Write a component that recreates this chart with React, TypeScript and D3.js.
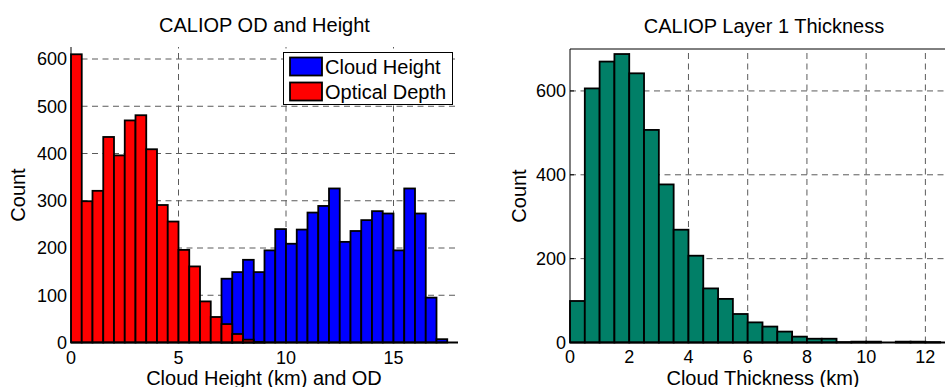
import React from "react";
import * as d3 from "d3";

// ---- Data ----
const binWidth = 0.5;
const odStart = 0;
const odCounts = [610, 299, 321, 435, 396, 470, 481, 409, 291, 256, 196, 161, 87, 54, 39, 18, 6, 1];
const heightStart = 7;
const heightCounts = [135, 149, 175, 149, 195, 240, 209, 239, 275, 289, 326, 213, 236, 259, 278, 273, 195, 326, 273, 95, 7];
const thickStart = 0;
const thickCounts = [99, 606, 670, 688, 642, 507, 377, 269, 207, 129, 104, 68, 48, 38, 26, 14, 9, 9, 1, 2, 2, 0, 2, 2, 1, 0];

const leftXTicks = [0, 5, 10, 15];
const leftYTicks = [0, 100, 200, 300, 400, 500, 600];
const rightXTicks = [0, 2, 4, 6, 8, 10, 12];
const rightYTicks = [0, 200, 400, 600];

const legendItems = [
  { label: "Cloud Height", color: "#0000FF" },
  { label: "Optical Depth", color: "#FF0000" },
];

const FONT = "'Liberation Sans', Arial, Helvetica, sans-serif";
const GRID = "#5a5a5a";

function bins(start: number, counts: number[]) {
  return counts.map((c, i) => ({ x0: start + i * binWidth, x1: start + (i + 1) * binWidth, c }));
}

export default function App() {
  // Left panel scales
  const lx = d3.scaleLinear().domain([0, 18]).range([71, 458]);
  const ly = d3.scaleLinear().domain([0, 600]).range([342.5, 59]);
  const lTop = 47;
  // Right panel scales
  const rx = d3.scaleLinear().domain([0, 13]).range([570, 955]);
  const ry = d3.scaleLinear().domain([0, 700]).range([342.5, 49]);

  const odBins = bins(odStart, odCounts);
  const hBins = bins(heightStart, heightCounts);
  const tBins = bins(thickStart, thickCounts);

  const barStroke = { stroke: "#000", strokeWidth: 1.8 } as const;

  return (
    <svg
      width={945}
      height={387}
      style={{ position: "absolute", left: 0, top: 0, background: "#fff" }}
      fontFamily={FONT}
    >
      <rect width={945} height={387} fill="#fff" />
      {/* ---------- LEFT PANEL ---------- */}
      <g>
        {leftYTicks.filter((t) => t > 0).map((t) => (
          <line key={"lyg" + t} x1={lx(0)} x2={lx(18)} y1={ly(t)} y2={ly(t)} stroke={GRID} strokeDasharray="6,4.5" strokeWidth={1} />
        ))}
        {leftXTicks.filter((t) => t > 0).map((t) => (
          <line key={"lxg" + t} x1={lx(t)} x2={lx(t)} y1={ly(0)} y2={lTop} stroke={GRID} strokeDasharray="6,4.5" strokeWidth={1} />
        ))}
        {hBins.map((b, i) => (
          <rect key={"h" + i} x={lx(b.x0)} y={ly(b.c)} width={lx(b.x1) - lx(b.x0)} height={ly(0) - ly(b.c)} fill="#0000FF" {...barStroke} />
        ))}
        {odBins.map((b, i) => (
          <rect key={"o" + i} x={lx(b.x0)} y={ly(b.c)} width={lx(b.x1) - lx(b.x0)} height={ly(0) - ly(b.c)} fill="#FF0000" {...barStroke} />
        ))}
        <line x1={lx(0)} x2={lx(0)} y1={ly(0)} y2={lTop} stroke="#000" strokeWidth={1} />
        <line x1={lx(0)} x2={lx(18)} y1={ly(0)} y2={ly(0)} stroke="#000" strokeWidth={2} />
        {leftYTicks.map((t) => (
          <text key={"lyt" + t} x={67} y={ly(t)} dy="0.35em" textAnchor="end" fontSize={18} fill="#000">{t}</text>
        ))}
        {leftXTicks.map((t) => (
          <text key={"lxt" + t} x={lx(t)} y={364} textAnchor="middle" fontSize={18} fill="#000">{t}</text>
        ))}
        <text x={264.5} y={32} textAnchor="middle" fontSize={20} fill="#000">CALIOP OD and Height</text>
        <text x={264} y={384.5} textAnchor="middle" fontSize={20} fill="#000">Cloud Height (km) and OD</text>
        <text transform="translate(25,195) rotate(-90)" textAnchor="middle" fontSize={20} fill="#000">Count</text>
        {/* legend */}
        <rect x={283.5} y={52.5} width={169} height={52} fill="#fff" stroke="#000" strokeWidth={1} />
        {legendItems.map((it, i) => (
          <g key={it.label}>
            <rect x={290} y={57.5 + i * 25} width={32} height={18} fill={it.color} stroke="#000" strokeWidth={1.8} />
            <text x={325} y={73.5 + i * 25} fontSize={20} fill="#000">{it.label}</text>
          </g>
        ))}
      </g>

      {/* ---------- RIGHT PANEL ---------- */}
      <g>
        {rightYTicks.filter((t) => t > 0).map((t) => (
          <line key={"ryg" + t} x1={rx(0)} x2={rx(13)} y1={ry(t)} y2={ry(t)} stroke={GRID} strokeDasharray="6,4.5" strokeWidth={1} />
        ))}
        {rightXTicks.filter((t) => t > 0).map((t) => (
          <line key={"rxg" + t} x1={rx(t)} x2={rx(t)} y1={ry(0)} y2={ry(700)} stroke={GRID} strokeDasharray="6,4.5" strokeWidth={1} />
        ))}
        {tBins.map((b, i) => (
          <rect key={"t" + i} x={rx(b.x0)} y={ry(b.c)} width={rx(b.x1) - rx(b.x0)} height={ry(0) - ry(b.c)} fill="#017F67" {...barStroke} />
        ))}
        <line x1={rx(0)} x2={rx(0)} y1={ry(0)} y2={ry(700)} stroke="#000" strokeWidth={1} />
        <line x1={rx(0)} x2={rx(13)} y1={ry(700)} y2={ry(700)} stroke="#000" strokeWidth={1} />
        <line x1={rx(0)} x2={rx(13)} y1={ry(0)} y2={ry(0)} stroke="#000" strokeWidth={2} />
        {rightYTicks.map((t) => (
          <line key={"ryk" + t} x1={rx(0)} x2={rx(0) + 4} y1={ry(t)} y2={ry(t)} stroke="#000" strokeWidth={1} />
        ))}
        {rightYTicks.map((t) => (
          <text key={"ryt" + t} x={566} y={ry(t)} dy="0.35em" textAnchor="end" fontSize={18} fill="#000">{t}</text>
        ))}
        {rightXTicks.map((t) => (
          <text key={"rxt" + t} x={rx(t)} y={363} textAnchor="middle" fontSize={18} fill="#000">{t}</text>
        ))}
        <text x={764} y={33} textAnchor="middle" fontSize={20} fill="#000">CALIOP Layer 1 Thickness</text>
        <text x={763} y={384.5} textAnchor="middle" fontSize={20} fill="#000">Cloud Thickness (km)</text>
        <text transform="translate(526,196) rotate(-90)" textAnchor="middle" fontSize={20} fill="#000">Count</text>
      </g>
    </svg>
  );
}
